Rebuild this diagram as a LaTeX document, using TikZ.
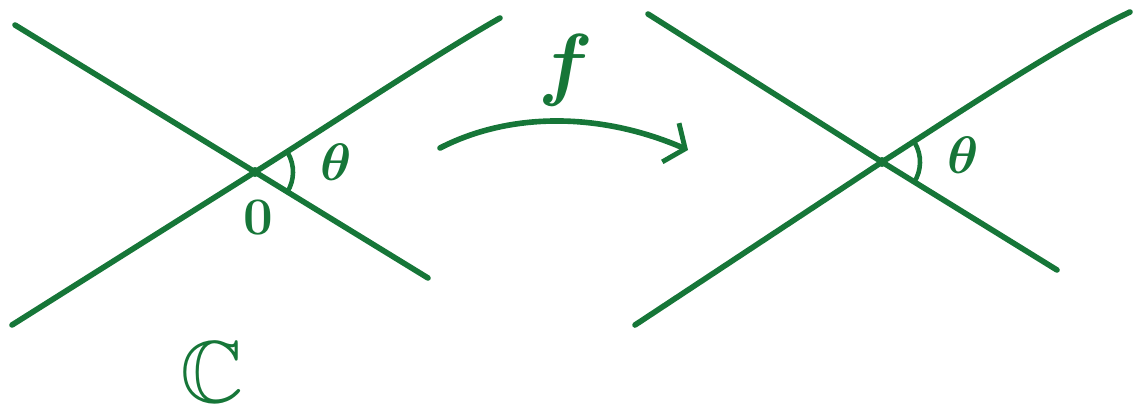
\RequirePackage{fix-cm}
\documentclass[tikz,border=0pt]{standalone}
\usepackage{amsmath, amssymb}
\usetikzlibrary{arrows.meta, positioning}
\definecolor{ink}{RGB}{22,118,56}

\begin{document}
\begin{tikzpicture}[x=0.02cm, y=-0.02cm,
                stroke/.style={draw=ink, line width=3.2pt, line cap=round, line join=round},
                label/.style={text=ink, inner sep=0pt, font=\boldmath},
                angle/.style={draw=ink, line width=2.6pt, line cap=round},
                arrow/.style={stroke, -{Straight Barb[length=9pt, width=24pt, line width=2.8pt]}}
            ]
                \useasboundingbox (0,0) rectangle (1142,406);

                % Points
                \coordinate (O1) at (255,172);
                \coordinate (a1) at (15,25);
                \coordinate (b1) at (428,278);
                \coordinate (c1) at (12,325);
                \coordinate (d1) at (500,18);
                \coordinate (O2) at (882,162);
                \coordinate (a2) at (648,14);
                \coordinate (b2) at (1057,270);
                \coordinate (c2) at (635,325);
                \coordinate (d2) at (1130,12);
                \coordinate (src) at (440,148);
                \coordinate (dst) at (688,150);

                % Lines
                \draw [stroke] (a1) -- (O1) -- (b1);
                \draw [stroke] (c1) -- (O1) .. controls (330,125) and (430,58) .. (d1);
                \draw [stroke] (a2) -- (O2) -- (b2);
                \draw [stroke] (c2) -- (O2) .. controls (960,112) and (1060,45) .. (d2);
                \fill [ink] (O1) circle (5);
                \fill [ink] (O2) circle (5);

                % Angles
                \draw [angle] (O1) ++(32:38) arc[start angle=32, end angle=-30, radius=38];
                \draw [angle] (O2) ++(32:38) arc[start angle=32, end angle=-30, radius=38];

                % Labels
                \node (theta1) [label] at (336,162) {\fontsize{30}{30}\selectfont$\theta$};
                \node (zero) [label] at (258,218) {\fontsize{30}{30}\selectfont$0$};
                \node (theta2) [label] at (963,155) {\fontsize{30}{30}\selectfont$\theta$};
                \node (plane) [label] at (212,372) {\fontsize{50}{50}\selectfont$\mathbb{C}$};

                % Arrow
                \draw [arrow] (src) .. controls (510,112) and (600,112) .. (dst);
                \node (map) [label] at (566,70) {\fontsize{46}{46}\selectfont$f$};
            \end{tikzpicture}
\end{document}
